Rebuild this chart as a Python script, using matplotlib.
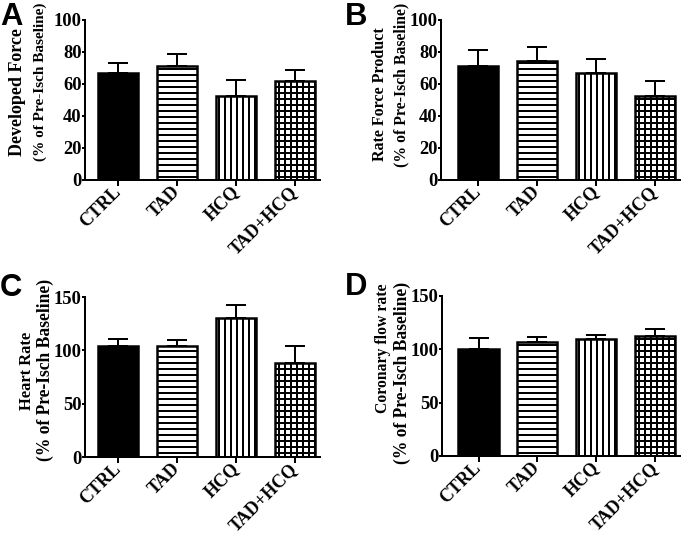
import numpy as np
import matplotlib.pyplot as plt

groups = ["CTRL", "TAD", "HCQ", "TAD+HCQ"]

force_mean = [67.0, 71.0, 52.8, 61.8]
force_err = [6.3, 7.9, 9.5, 7.2]

rfp_mean = [71.2, 74.5, 67.0, 52.8]
rfp_err = [10.2, 8.8, 8.4, 9.3]

hr_mean = [103.8, 103.8, 130.6, 88.2]
hr_err = [6.6, 6.3, 12.0, 16.0]

cfr_mean = [100.4, 106.6, 109.7, 112.8]
cfr_err = [10.6, 5.4, 4.0, 6.6]

panels = ["A", "B", "C", "D"]
ylabels = [("Developed Force", "(% of Pre-Isch Baseline)"),
           ("Rate Force Product", "(% of Pre-Isch Baseline)"),
           ("Heart Rate", "(% of Pre-Isch Baseline)"),
           ("Coronary flow rate", "(% of Pre-Isch Baseline)")]

W, H = 690, 538
plt.rcParams['hatch.linewidth'] = 2.0
plt.rcParams['font.family'] = 'Liberation Serif'
plt.rcParams['font.weight'] = 'bold'

fig = plt.figure(figsize=(W / 72, H / 72), dpi=72)

# axes boxes in pixels: left, right, y of zero, y of top
boxes = [(85, 320, 180, 20), (441, 680, 180, 20),
         (85, 320, 457, 297), (442, 680, 456, 296)]
xleft = [-0.555, -0.63, -0.555, -0.62]
ymax = [100, 100, 150, 150]
ysteps = [20, 20, 50, 50]
# label line positions (x1, y1, size1, x2, y2, size2) in pixels
lab = [(18, 92, 18, 40, 82, 15.2),
       (380, 94, 16, 401, 85, 15.8),
       (27, 371, 16.5, 45, 370, 17.5),
       (383, 348, 15.8, 402, 373, 17.5)]
letter_pos = [(0, 2), (345, 2), (0, 273), (345, 272)]

means = [force_mean, rfp_mean, hr_mean, cfr_mean]
errs = [force_err, rfp_err, hr_err, cfr_err]
fills = ['black', 'white', 'white', 'white']
hatches = [None, '--', '||', '++']

x = np.arange(len(groups))

for i in range(4):
    l, r, y0, yt = boxes[i]
    ax = fig.add_axes([l / W, 1 - y0 / H, (r - l) / W, (y0 - yt) / H])

    ax.bar(x, means[i], width=0.68, color=fills, edgecolor='black',
           hatch=hatches, linewidth=2.5, zorder=2)
    ax.errorbar(x, means[i], yerr=[np.zeros(4), errs[i]], fmt='none',
                ecolor='black', elinewidth=2, capsize=10, capthick=2, zorder=1)

    ax.set_xlim(xleft[i], 3.42)
    ax.set_ylim(0, ymax[i])
    ax.set_yticks(np.arange(0, ymax[i] + 1, ysteps[i]))
    ax.set_xticks(x)
    ax.set_xticklabels(groups, rotation=45, ha='right', va='center',
                       rotation_mode='anchor')

    for s in ['top', 'right']:
        ax.spines[s].set_visible(False)
    for s in ['left', 'bottom']:
        ax.spines[s].set_linewidth(2)
    ax.tick_params(axis='y', length=3, width=2, labelsize=18.5, pad=0.5)
    ax.tick_params(axis='x', length=6, width=2, labelsize=18, pad=3)
    ax.patch.set_alpha(0)

    x1, y1, s1, x2, y2, s2 = lab[i]
    fig.text(x1 / W, 1 - y1 / H, ylabels[i][0], rotation=90, ha='center',
             va='center', fontsize=s1, fontweight='bold')
    fig.text(x2 / W, 1 - y2 / H, ylabels[i][1], rotation=90, ha='center',
             va='center', fontsize=s2, fontweight='bold')

    lx, ly = letter_pos[i]
    fig.text(lx / W, 1 - ly / H, panels[i], ha='left', va='top', fontsize=31,
             fontweight='bold', family='Liberation Sans')

fig.savefig("out.png", dpi=72)
